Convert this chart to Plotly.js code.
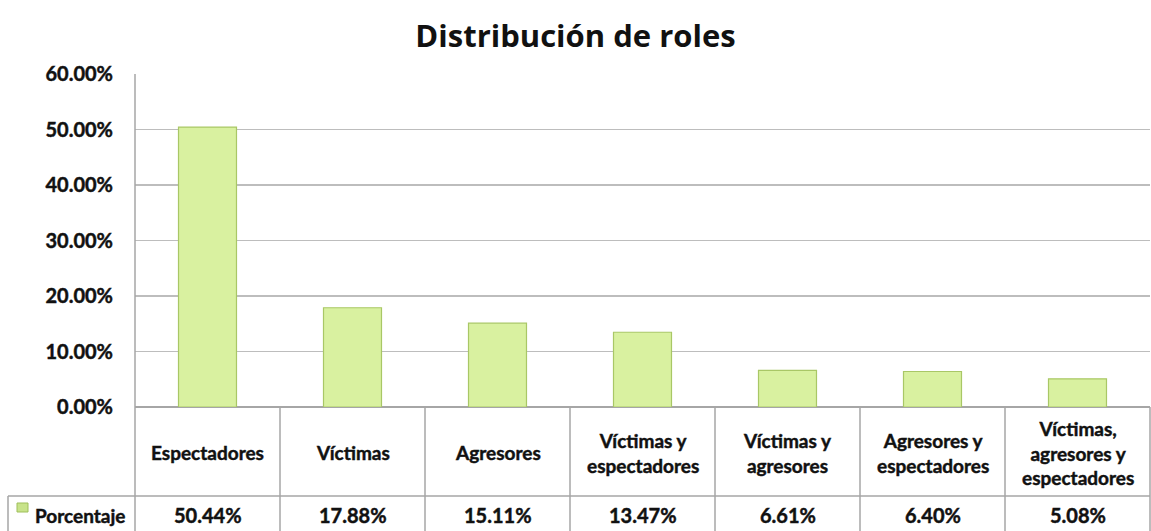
<!DOCTYPE html>
<html>
<head>
<meta charset="utf-8">
<script src="https://cdn.plot.ly/plotly-3.0.1.min.js"></script>
<style>
html,body{margin:0;padding:0;background:#fff;}
#chart{width:1151px;height:531px;}
#chart .annotation-text, #chart .ytick text{stroke:#111;stroke-width:0.45px;}
</style>
</head>
<body>
<div id="chart"></div>
<script>
const categories = ["Espectadores", "Víctimas", "Agresores", "Víctimas y espectadores", "Víctimas y agresores", "Agresores y espectadores", "Víctimas, agresores y espectadores"];
const categoryLabels = ["Espectadores", "Víctimas", "Agresores", "Víctimas y<br>espectadores", "Víctimas y<br>agresores", "Agresores y<br>espectadores", "Víctimas,<br>agresores y<br>espectadores"];
const percentages = [50.44, 17.88, 15.11, 13.47, 6.61, 6.40, 5.08];
const seriesName = "Porcentaje";
const yTicks = [0, 10, 20, 30, 40, 50, 60];
const chartTitle = "Distribución de roles";

const W = 1151, H = 531;
const plotL = 135, plotR = 1150, plotT = 74, plotB = 407;
const rowSplit = 496;
const legendL = 8;
const pw = plotR - plotL, ph = plotB - plotT;
const px = x => (x - plotL) / pw;          // pixel -> paper x
const py = y => (plotB - y) / ph;          // pixel -> paper y

const n = categories.length;
const lineCol = "#a6a6a6";
const shapes = [];
shapes.push({type:"line", xref:"paper", yref:"paper", x0:0, x1:0, y0:1, y1:py(H), line:{color:lineCol, width:1.5}});
for (let i = 1; i < n; i++) {
  shapes.push({type:"line", xref:"x", yref:"paper", x0:i-0.5, x1:i-0.5, y0:0, y1:py(H), line:{color:lineCol, width:1.5}});
}
shapes.push({type:"line", xref:"paper", yref:"paper", x0:1, x1:1, y0:0, y1:py(H), line:{color:lineCol, width:1.5}});
shapes.push({type:"line", xref:"paper", yref:"paper", x0:px(legendL), x1:1, y0:py(rowSplit), y1:py(rowSplit), line:{color:lineCol, width:1.5}});
shapes.push({type:"line", xref:"paper", yref:"paper", x0:px(legendL), x1:px(legendL), y0:py(rowSplit), y1:py(H), line:{color:lineCol, width:1.5}});
shapes.push({type:"rect", xref:"paper", yref:"paper", x0:px(17), x1:px(28), y0:py(503), y1:py(512), fillcolor:"#c8e38a", line:{color:"#9fbf5a", width:1}});

const fam = "Lato, 'Open Sans', sans-serif";
const catFont = {family:fam, size:19, color:"#111", weight:700};
const valFont = {family:fam, size:20, color:"#111", weight:700};
const annotations = [];
categoryLabels.forEach((lab, i) => {
  annotations.push({xref:"x", yref:"paper", x:i, y:py((plotB + rowSplit)/2 + 1), text:lab, showarrow:false, font:catFont, xanchor:"center", yanchor:"middle", align:"center"});
  annotations.push({xref:"x", yref:"paper", x:i, y:py(515), text:percentages[i].toFixed(2)+"%", showarrow:false, font:valFont, xanchor:"center", yanchor:"middle"});
});
annotations.push({xref:"paper", yref:"paper", x:px(33), y:py(515), text:seriesName, showarrow:false, font:{family:fam, size:19, color:"#111", weight:700}, xanchor:"left", yanchor:"middle"});

const trace = {
  type:"bar",
  x: categories.map((c,i)=>i),
  y: percentages,
  name: seriesName,
  width: 0.4,
  marker:{color:"#d9f1a0", line:{color:"#a9c766", width:1.2}},
  hoverinfo:"y"
};

const layout = {
  width:W, height:H,
  margin:{l:plotL, r:W-plotR, t:plotT, b:H-plotB, pad:0},
  paper_bgcolor:"#fff", plot_bgcolor:"#fff",
  showlegend:false,
  title:{text:chartTitle, x:0.5, xref:"container", xanchor:"center", y:1-36/H, yref:"container", yanchor:"middle", font:{family:"'Open Sans', sans-serif", size:31, color:"#111", weight:700}},
  xaxis:{range:[-0.5, n-0.5], showticklabels:false, showgrid:false, zeroline:false, showline:false, ticks:"", fixedrange:true},
  yaxis:{range:[0,60], tickvals:yTicks, ticktext:yTicks.map(v=>v.toFixed(2)+"%"), showgrid:true, gridcolor:"#bdbdbd", gridwidth:1.5, zeroline:true, zerolinecolor:"#a6a6a6", zerolinewidth:1.5, showline:false, ticks:"", ticklabelstandoff:21, tickfont:{family:fam, size:20, color:"#111", weight:700}, fixedrange:true},
  shapes: shapes,
  annotations: annotations
};

Plotly.newPlot("chart", [trace], layout, {displayModeBar:false, staticPlot:true});
</script>
</body>
</html>
